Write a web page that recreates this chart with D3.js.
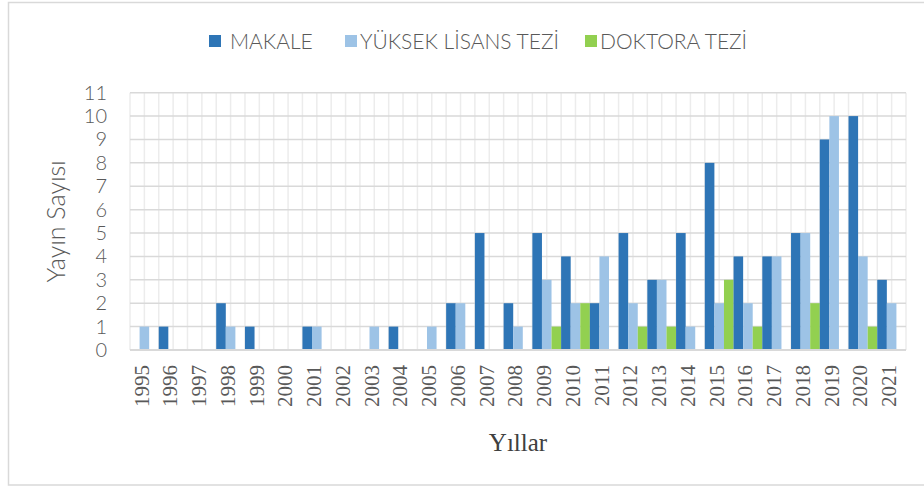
<!DOCTYPE html>
<html>
<head>
<meta charset="utf-8">
<script src="https://cdn.jsdelivr.net/npm/d3@7"></script>
<style>
  body { margin: 0; background: #fff; }
  svg { display: block; }
</style>
</head>
<body>
<div id="chart"></div>
<script>
// data
const years = ['1995','1996','1997','1998','1999','2000','2001','2002','2003','2004','2005','2006','2007','2008',
               '2009','2010','2011','2012','2013','2014','2015','2016','2017','2018','2019','2020','2021'];
const makale  = [0,1,0,2,1,0,1,0,0,1,0,2,5,2,5,4,2,5,3,5,8,4,4,5,9,10,3];
const yuksek  = [1,0,0,1,0,0,1,0,1,0,1,2,0,1,3,2,4,2,3,1,2,2,4,5,10,4,2];
const doktora = [0,0,0,0,0,0,0,0,0,0,0,0,0,0,1,2,0,1,1,0,3,1,0,2,0,1,0];
const seriesNames = ['MAKALE', 'YÜKSEK LİSANS TEZİ', 'DOKTORA TEZİ'];
const seriesColors = ['#2e75b6', '#9dc3e6', '#92d050'];
const yTicks = [0,1,2,3,4,5,6,7,8,9,10,11];

const width = 924, height = 487;
const plot = {left: 130, right: 906, top: 92.7, bottom: 350};
const sans = 'Lato, "Open Sans", sans-serif';
const serif = '"Liberation Serif", "Times New Roman", serif';

const svg = d3.select('#chart').append('svg')
    .attr('width', width).attr('height', height);

// chart frame
svg.append('rect')
    .attr('x', 8.5).attr('y', 2.5)
    .attr('width', 930).attr('height', 482.5)
    .attr('fill', 'none')
    .attr('stroke', '#d9d9d9')
    .attr('stroke-width', 1.5);

const x = d3.scaleBand().domain(years).range([plot.left, plot.right]).padding(0);
const xs = d3.scaleBand().domain(seriesNames).range([0, x.bandwidth()]).padding(0);
const y = d3.scaleLinear().domain([0, 11]).range([plot.bottom, plot.top]);

// vertical grid, one at each category edge and one in the middle
const vgrid = [];
years.forEach(d => { vgrid.push(x(d)); vgrid.push(x(d) + x.bandwidth() / 2); });
vgrid.push(plot.right);
svg.append('g').selectAll('line')
    .data(vgrid).enter().append('line')
    .attr('x1', d => d).attr('x2', d => d)
    .attr('y1', plot.top).attr('y2', plot.bottom)
    .attr('stroke', '#ececec')
    .attr('stroke-width', 1.5);

// horizontal grid
svg.append('g').selectAll('line')
    .data(yTicks).enter().append('line')
    .attr('x1', plot.left).attr('x2', plot.right)
    .attr('y1', d => y(d)).attr('y2', d => y(d))
    .attr('stroke', '#d9d9d9')
    .attr('stroke-width', 1.5);

// bars
const table = years.map((yr, i) => ({year: yr, values: [makale[i], yuksek[i], doktora[i]]}));
const groups = svg.append('g').selectAll('g')
    .data(table).enter().append('g')
    .attr('transform', d => 'translate(' + x(d.year) + ',0)');

groups.selectAll('rect')
    .data(d => d.values.map((v, k) => ({name: seriesNames[k], value: v, color: seriesColors[k]})))
    .enter().append('rect')
    .attr('x', d => xs(d.name))
    .attr('width', xs.bandwidth())
    .attr('y', d => y(d.value))
    .attr('height', d => y(0) - y(d.value))
    .attr('fill', d => d.color);

// axis line at 0
svg.append('line')
    .attr('x1', plot.left).attr('x2', plot.right)
    .attr('y1', y(0)).attr('y2', y(0))
    .attr('stroke', '#d9d9d9').attr('stroke-width', 2);

// y axis
const yAxis = svg.append('g')
    .attr('transform', 'translate(' + (plot.left - 23) + ',0)')
    .call(d3.axisLeft(y).tickValues(yTicks).tickSize(0).tickPadding(0));
yAxis.select('.domain').remove();
yAxis.selectAll('text')
    .attr('font-family', sans)
    .attr('font-weight', 300)
    .attr('font-size', 20)
    .attr('fill', '#595959');

// x axis (labels rotated)
const xAxis = svg.append('g')
    .attr('transform', 'translate(0,' + (plot.bottom + 15) + ')')
    .call(d3.axisBottom(x).tickSize(0).tickPadding(0));
xAxis.select('.domain').remove();
xAxis.selectAll('text')
    .attr('font-family', serif)
    .attr('font-size', 21)
    .attr('fill', '#595959')
    .attr('transform', 'translate(-3,0) rotate(-90)')
    .attr('text-anchor', 'end')
    .attr('x', 0).attr('y', 0)
    .attr('dy', '0.35em');

// axis titles
svg.append('text')
    .attr('transform', 'translate(65,' + ((plot.top + plot.bottom) / 2) + ') rotate(-90)')
    .attr('text-anchor', 'middle')
    .attr('font-family', sans)
    .attr('font-weight', 300)
    .attr('font-size', 25)
    .attr('fill', '#595959')
    .text('Yayın Sayısı');

svg.append('text')
    .attr('x', (plot.left + plot.right) / 2)
    .attr('y', 451)
    .attr('text-anchor', 'middle')
    .attr('font-family', serif)
    .attr('font-size', 25)
    .attr('fill', '#404040')
    .text('Yıllar');

// legend
const legendX = [209, 345, 585];
const legend = svg.append('g').selectAll('g')
    .data(seriesNames).enter().append('g')
    .attr('transform', (d, i) => 'translate(' + legendX[i] + ',35)');
legend.append('rect')
    .attr('width', 12).attr('height', 12)
    .attr('fill', (d, i) => seriesColors[i]);
legend.append('text')
    .attr('x', (d, i) => i === 0 ? 21 : 15)
    .attr('y', 6)
    .attr('dy', '0.36em')
    .attr('font-family', sans)
    .attr('font-weight', 300)
    .attr('font-size', 21)
    .attr('fill', '#595959')
    .text(d => d);
</script>
</body>
</html>
